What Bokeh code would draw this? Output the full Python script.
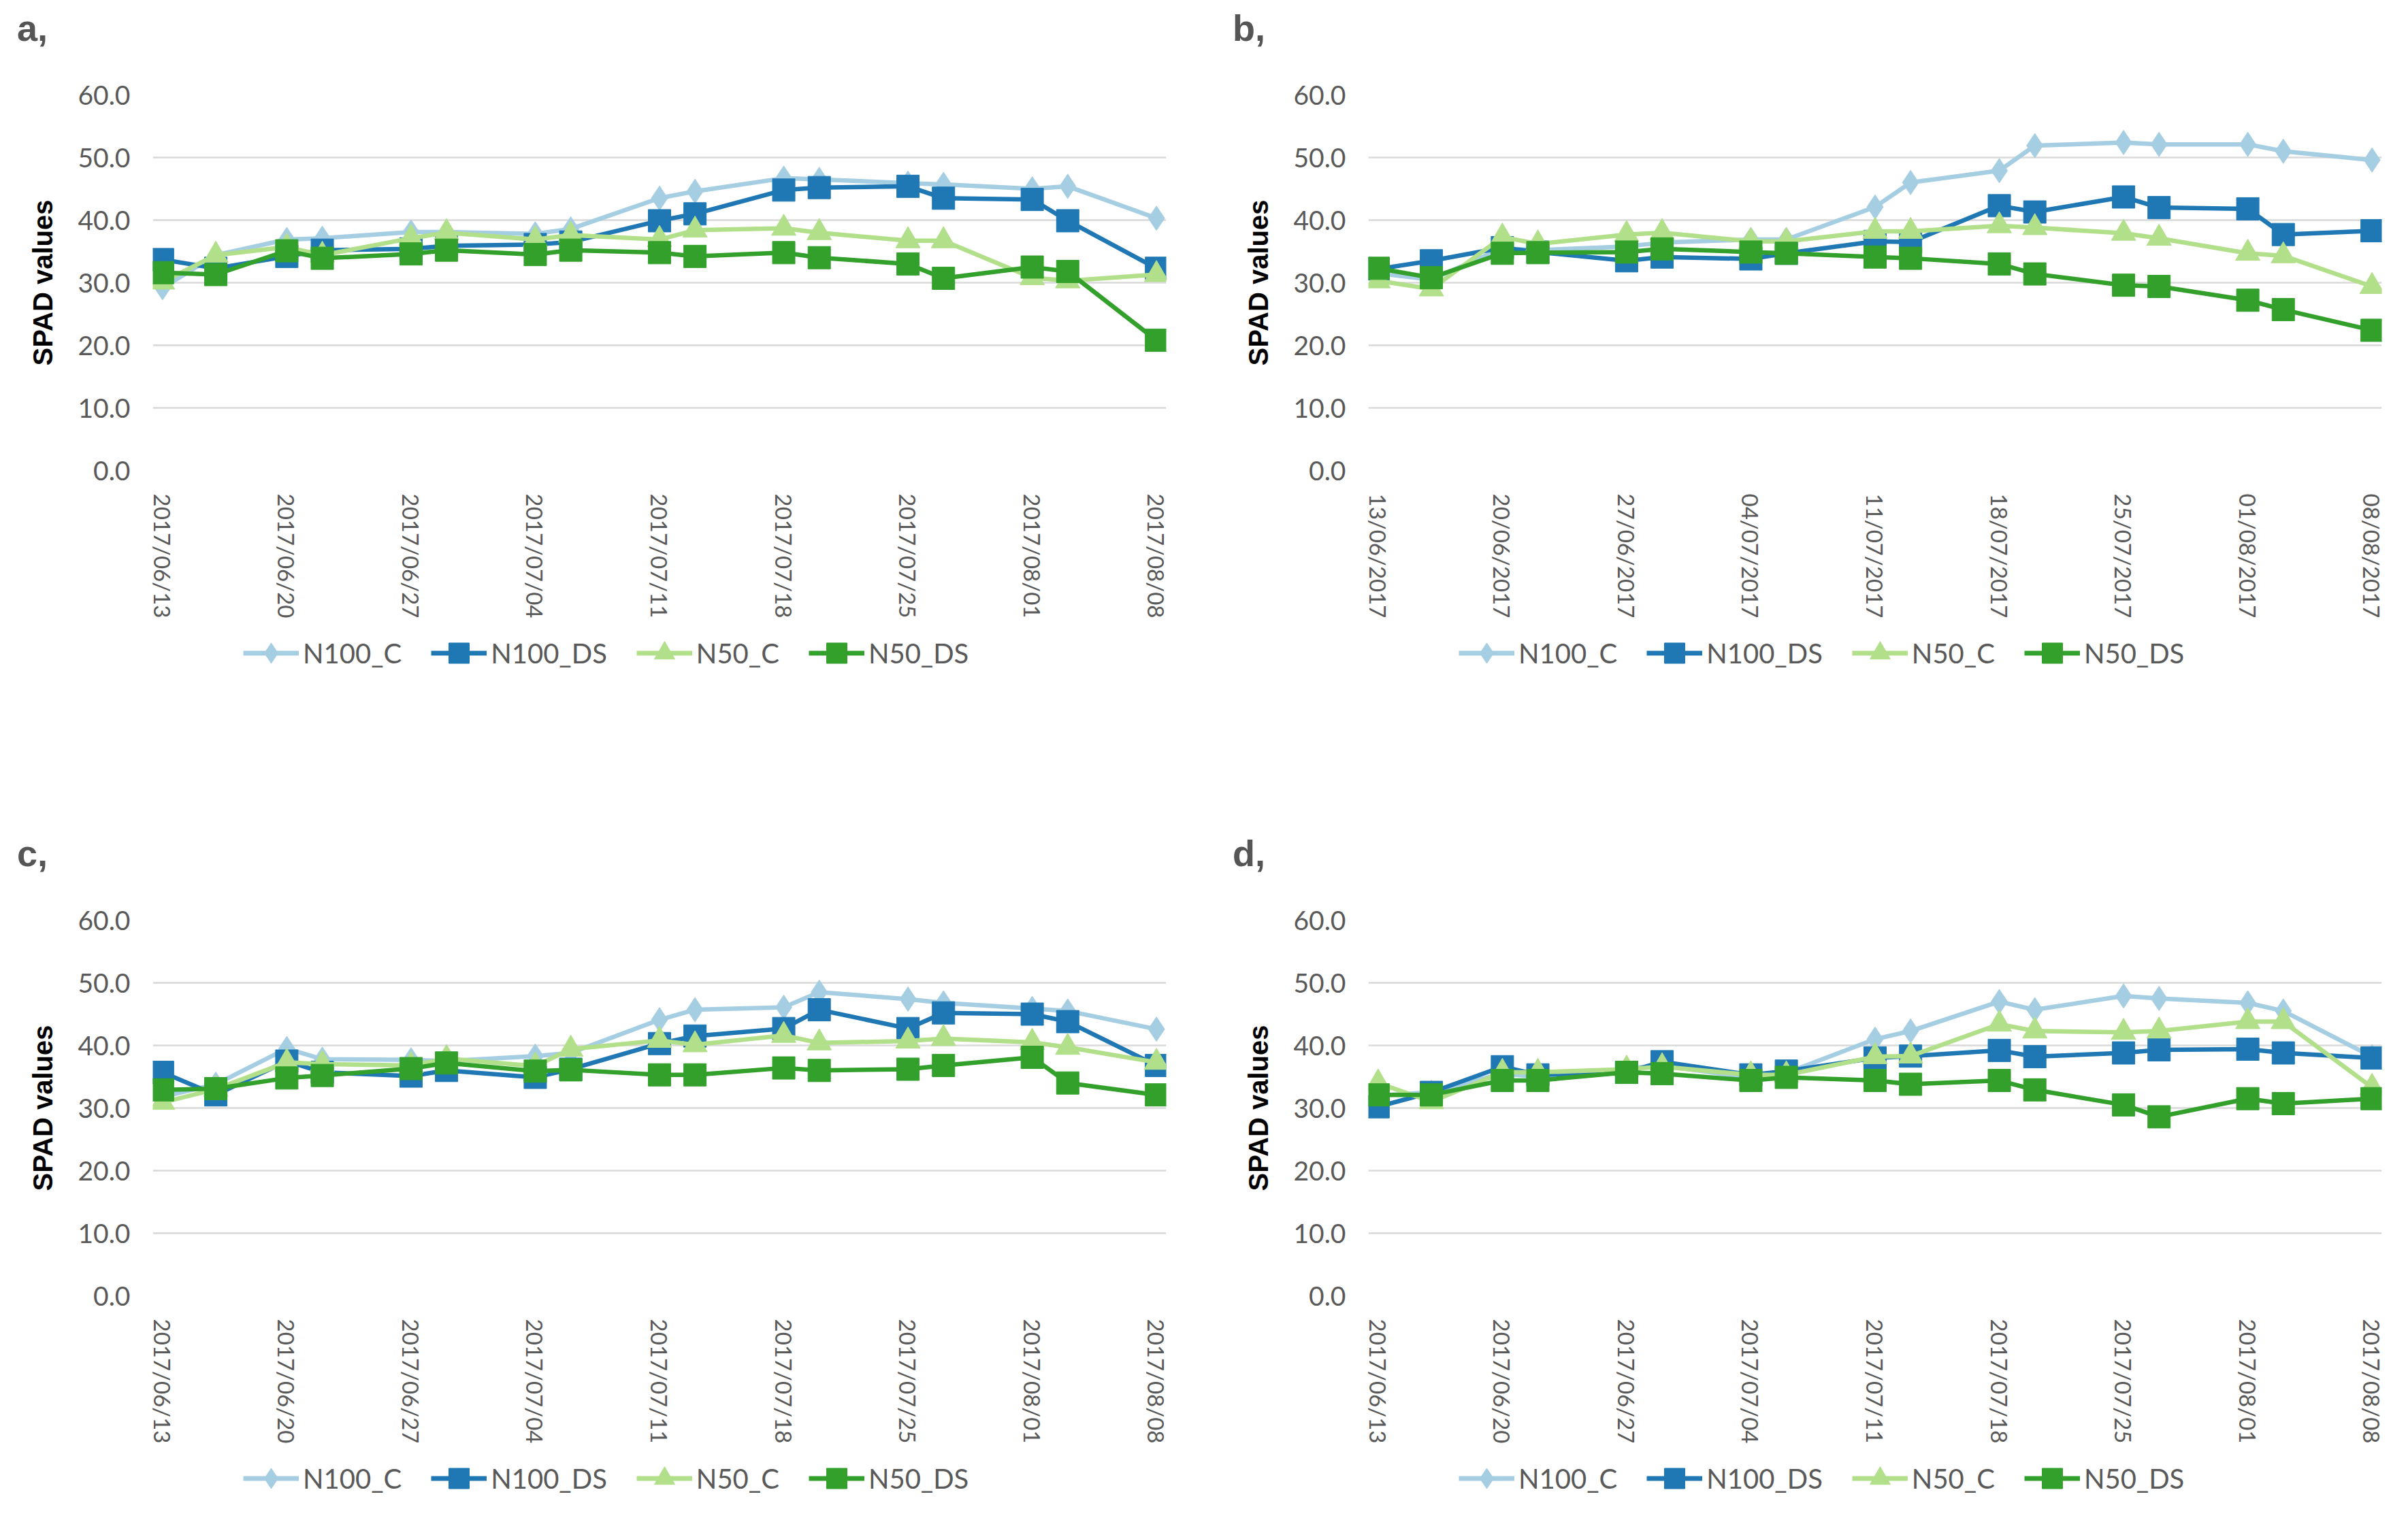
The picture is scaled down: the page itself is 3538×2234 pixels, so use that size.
import math
import pandas as pd
from bokeh.plotting import figure
from bokeh.models import (Range1d, FixedTicker, DatetimeTickFormatter, PrintfTickFormatter,
                          Legend, LegendItem, Div)
from bokeh.layouts import column, row
from bokeh.embed import file_html
from bokeh.resources import INLINE

# ---------------- data ----------------
dates = ["2017-06-13", "2017-06-16", "2017-06-20", "2017-06-22", "2017-06-27", "2017-06-29",
         "2017-07-04", "2017-07-06", "2017-07-11", "2017-07-13", "2017-07-18", "2017-07-20",
         "2017-07-25", "2017-07-27", "2017-08-01", "2017-08-03", "2017-08-08"]
tick_dates = ["2017-06-13", "2017-06-20", "2017-06-27", "2017-07-04", "2017-07-11",
              "2017-07-18", "2017-07-25", "2017-08-01", "2017-08-08"]
series_names = ["N100_C", "N100_DS", "N50_C", "N50_DS"]
y_ticks = [0, 10, 20, 30, 40, 50, 60]

a_N100_C = [29.2, 34.4, 36.9, 37.1, 38.1, 38.1, 37.8, 38.6, 43.5, 44.6, 46.7, 46.5, 45.9, 45.7, 45.0, 45.4, 40.3]
a_N100_DS = [33.7, 32.3, 34.2, 35.2, 35.4, 35.9, 36.1, 36.5, 39.9, 41.0, 44.8, 45.2, 45.4, 43.5, 43.3, 39.9, 32.3]
a_N50_C = [30.1, 34.4, 35.7, 34.4, 37.1, 38.0, 36.9, 37.6, 36.9, 38.4, 38.7, 38.0, 36.7, 36.7, 30.8, 30.3, 31.3]
a_N50_DS = [31.6, 31.3, 35.1, 33.9, 34.6, 35.2, 34.5, 35.2, 34.8, 34.2, 34.8, 34.0, 33.0, 30.7, 32.5, 31.8, 20.8]

b_N100_C = [31.5, 30.5, 35.5, 35.2, 35.8, 36.4, 36.9, 36.9, 42.1, 46.0, 47.9, 51.9, 52.4, 52.1, 52.1, 51.0, 49.6]
b_N100_DS = [32.2, 33.5, 35.6, 34.9, 33.5, 34.1, 33.8, 34.7, 36.6, 36.5, 42.3, 41.3, 43.7, 42.0, 41.8, 37.7, 38.3]
b_N50_C = [30.3, 29.0, 37.3, 36.2, 37.7, 38.0, 36.6, 36.6, 38.2, 38.2, 39.1, 38.8, 37.9, 37.1, 34.7, 34.3, 29.4]
b_N50_DS = [32.3, 30.8, 34.7, 34.8, 34.9, 35.4, 34.9, 34.7, 34.1, 33.9, 33.0, 31.4, 29.6, 29.4, 27.2, 25.7, 22.4]

c_N100_C = [31.8, 33.8, 39.5, 37.8, 37.7, 37.5, 38.3, 38.8, 44.1, 45.7, 46.1, 48.5, 47.4, 46.8, 45.9, 45.5, 42.6]
c_N100_DS = [35.7, 32.1, 37.5, 35.7, 35.1, 36.0, 34.9, 36.2, 40.3, 41.5, 42.7, 45.7, 42.7, 45.2, 45.0, 43.8, 36.8]
c_N50_C = [30.9, 33.0, 37.3, 37.0, 36.8, 37.9, 36.7, 39.4, 40.8, 40.1, 41.6, 40.4, 40.7, 41.1, 40.5, 39.7, 37.3]
c_N50_DS = [32.9, 33.1, 34.8, 35.2, 36.3, 37.2, 35.9, 36.1, 35.3, 35.3, 36.4, 36.0, 36.2, 36.8, 38.1, 34.0, 32.1]

d_N100_C = [32.0, 32.5, 35.5, 35.0, 36.3, 36.8, 34.8, 35.6, 41.0, 42.3, 47.0, 45.7, 47.9, 47.5, 46.8, 45.5, 38.2]
d_N100_DS = [30.2, 32.5, 36.6, 35.3, 35.7, 37.4, 35.3, 35.9, 38.0, 38.3, 39.2, 38.2, 38.8, 39.3, 39.4, 38.8, 38.0]
d_N50_C = [34.0, 31.0, 35.7, 35.7, 36.2, 36.6, 35.3, 35.3, 38.2, 38.3, 43.4, 42.3, 42.1, 42.3, 43.8, 43.8, 33.3]
d_N50_DS = [32.1, 32.1, 34.4, 34.4, 35.7, 35.5, 34.4, 34.9, 34.4, 33.8, 34.4, 32.9, 30.5, 28.6, 31.5, 30.7, 31.5]

# ---------------- styles ----------------
colors = ["#A6CEE3", "#1F78B4", "#B2DF8A", "#33A02C"]
markers = ["diamond", "square", "triangle", "square"]
marker_sizes = [36, 33, 36, 33]
TICK_FONT = "Lato"
GRAY = "#595959"

HEADER_H = 70
HEADER_EXTRA = 11          # extra vertical room the page adds around the header block
BORDER_L, BORDER_T, BORDER_B = 224, 59, 215
FRAME_W, FRAME_H = 1489, 557
MAIN_H = BORDER_T + FRAME_H + BORDER_B
LEG_H_TOP = 1214 - HEADER_EXTRA - HEADER_H - MAIN_H
LEG_H_BOTTOM = 1004 - HEADER_EXTRA - HEADER_H - MAIN_H
LEG_GLYPH_H = 75


def to_ms(s):
    return pd.to_datetime(s).astype("int64") // 10**6


def make_panel(letter, fmt, series, right_border, leg_h, leg_x):
    x = pd.to_datetime(dates)
    xms = to_ms(dates)
    pad = 0.55 * 86400000
    width = BORDER_L + FRAME_W + right_border

    header = Div(text=('<div style="padding:9px 0 0 20px;font-family:\'Liberation Sans\';'
                       'font-weight:bold;font-size:54px;line-height:54px;color:#555555;">'
                       + letter + '</div>'),
                 width=width, height=HEADER_H)

    p = figure(x_axis_type="datetime", width=width, height=MAIN_H,
               min_border_left=BORDER_L, min_border_right=right_border,
               min_border_top=BORDER_T, min_border_bottom=BORDER_B,
               x_range=Range1d(float(xms[0]) - pad, float(xms[-1]) + pad),
               y_range=Range1d(0, 60),
               output_backend="svg", toolbar_location=None, tools="")
    p.background_fill_color = "white"
    p.border_fill_color = "white"
    p.outline_line_color = None
    p.xgrid.grid_line_color = None
    p.ygrid.grid_line_color = "#D9D9D9"
    p.ygrid.grid_line_width = 2.5

    # y axis
    p.yaxis.ticker = FixedTicker(ticks=y_ticks)
    p.yaxis.formatter = PrintfTickFormatter(format="%.1f")
    p.yaxis.axis_line_color = None
    p.yaxis.major_tick_line_color = None
    p.yaxis.minor_tick_line_color = None
    p.yaxis.major_label_standoff = 27
    p.yaxis.major_label_text_font = TICK_FONT
    p.yaxis.major_label_text_font_size = "39px"
    p.yaxis.major_label_text_color = GRAY
    p.yaxis.axis_label = "SPAD values"
    p.yaxis.axis_label_text_font = "Liberation Sans"
    p.yaxis.axis_label_text_font_style = "bold"
    p.yaxis.axis_label_text_font_size = "40px"
    p.yaxis.axis_label_text_color = "#000000"
    p.yaxis.axis_label_standoff = 26

    # x axis
    p.xaxis.ticker = FixedTicker(ticks=[float(t) for t in to_ms(tick_dates)])
    p.xaxis.formatter = DatetimeTickFormatter(
        milliseconds=fmt, seconds=fmt, minsec=fmt, minutes=fmt, hourmin=fmt,
        hours=fmt, days=fmt, months=fmt, years=fmt)
    p.xaxis.axis_line_color = None
    p.xaxis.major_tick_line_color = None
    p.xaxis.minor_tick_line_color = None
    p.xaxis.major_label_orientation = -math.pi / 2
    p.xaxis.major_label_standoff = 28
    p.xaxis.major_label_text_font = TICK_FONT
    p.xaxis.major_label_text_font_size = "33px"
    p.xaxis.major_label_text_color = GRAY

    for vals, col, mk, ms in zip(series, colors, markers, marker_sizes):
        p.line(x, vals, line_color=col, line_width=6.5, line_join="round")
        p.scatter(x, vals, marker=mk, size=ms, fill_color=col, line_color=col)

    # legend strip below the chart; key renderers reuse the series data,
    # which lies outside this strip's ranges, so only the legend keys show
    lg = figure(width=width, height=leg_h, x_range=Range1d(0, 1), y_range=Range1d(0, 1),
                min_border=0, x_axis_location=None, y_axis_location=None,
                output_backend="svg", toolbar_location=None, tools="")
    lg.outline_line_color = None
    lg.grid.grid_line_color = None
    lg.background_fill_color = "white"
    lg.border_fill_color = "white"
    items = []
    for name, vals, col, mk in zip(series_names, series, colors, markers):
        lr = lg.line(x, vals, line_color=col, line_width=7)
        sr = lg.scatter(x, vals, marker=mk, fill_color=col, line_color=col)
        items.append(LegendItem(label=name, renderers=[lr, sr]))
    leg_top = 11
    legend = Legend(items=items, orientation="horizontal",
                    location=(leg_x, leg_h - leg_top - LEG_GLYPH_H),
                    glyph_width=82, glyph_height=LEG_GLYPH_H, label_standoff=6, spacing=43,
                    padding=0, margin=0, border_line_color=None, background_fill_alpha=0,
                    label_text_font=TICK_FONT, label_text_font_size="40px",
                    label_text_color=GRAY, label_text_baseline="middle")
    lg.add_layout(legend, "center")
    return column(header, p, lg)


pa = make_panel("a,", "%Y/%m/%d", [a_N100_C, a_N100_DS, a_N50_C, a_N50_DS], 63, LEG_H_TOP, 133)
pb = make_panel("b,", "%d/%m/%Y", [b_N100_C, b_N100_DS, b_N50_C, b_N50_DS], 31, LEG_H_TOP, 133)
pc = make_panel("c,", "%Y/%m/%d", [c_N100_C, c_N100_DS, c_N50_C, c_N50_DS], 63, LEG_H_BOTTOM, 133)
pd_ = make_panel("d,", "%Y/%m/%d", [d_N100_C, d_N100_DS, d_N50_C, d_N50_DS], 31, LEG_H_BOTTOM, 133)

layout = column(row(pa, pb), row(pc, pd_))
open("out.html", "w").write(file_html(layout, INLINE))
